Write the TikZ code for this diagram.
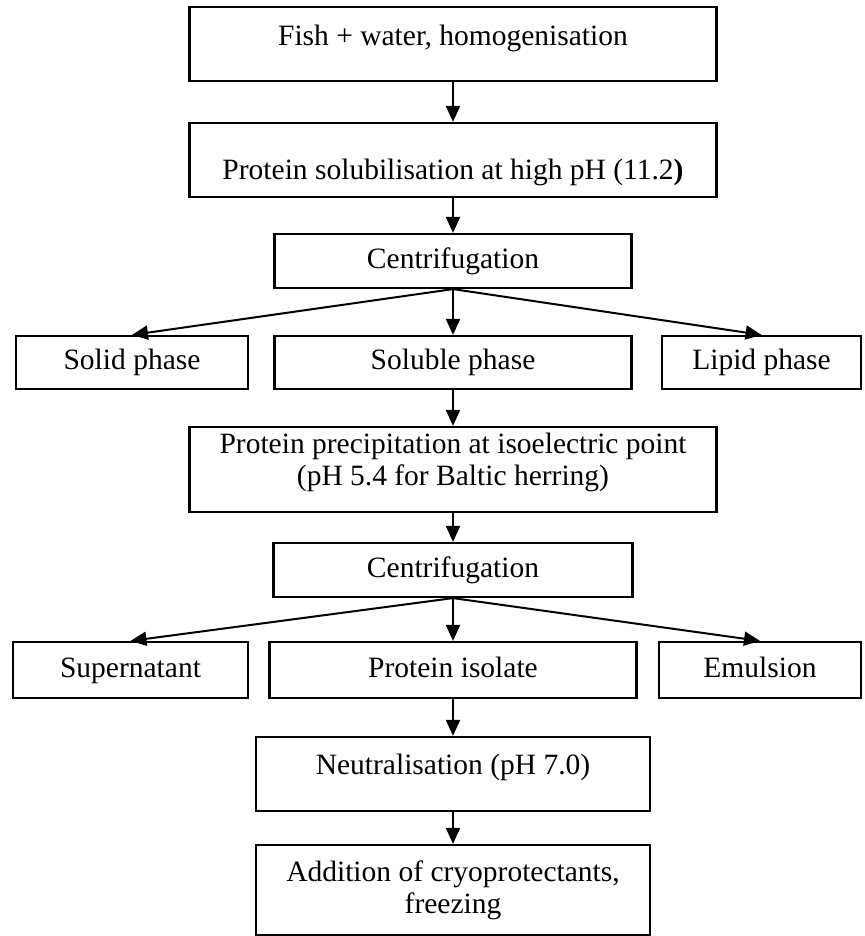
\documentclass[tikz,border=0pt]{standalone}
\usepackage{fontspec}
\setmainfont{Liberation Serif}
\usetikzlibrary{arrows.meta}

\begin{document}
\begin{tikzpicture}[
      x=1pt,y=-1pt,
      wNode/.style={draw=black,fill=white,minimum width=527pt,minimum height=74pt,
                    inner sep=0pt,align=center,font=\fontsize{29.5}{32}\selectfont,line width=2.2pt},
      oNode/.style={wNode,text height=21pt,text depth=6.5pt},
      cNode/.style={oNode,minimum width=357pt,minimum height=54pt},
      pNode/.style={oNode,minimum height=53pt},
      ar/.style={-{Triangle[length=16pt,width=14pt]},line width=2pt,color=black}
    ]
    \useasboundingbox (0,0) rectangle (864,936);

    % Extraction at high pH
    \node(fish)[oNode,text depth=18.5pt] at (453,44) {Fish + water, homogenisation};
    \node(solub)[oNode,text height=45pt] at (453,160) {Protein solubilisation at high pH (11.2\textbf{)}};
    \node(centA)[cNode] at (453,261) {Centrifugation};

    % Row 1: phases after first centrifugation
    \node(solid)[pNode,minimum width=232pt] at (132,362.5) {Solid phase};
    \node(soluble)[pNode,minimum width=357pt] at (453,362.5) {Soluble phase};
    \node(lipid)[pNode,minimum width=199pt] at (761.5,362.5) {Lipid phase};

    % Precipitation
    \node(precip)[wNode,minimum height=85pt,text depth=20.5pt] at (453,469.5) {Protein precipitation at isoelectric point\\(pH 5.4 for Baltic herring)};
    \node(centB)[cNode,minimum width=359pt] at (453,570) {Centrifugation};

    % Row 2: fractions after second centrifugation
    \node(super)[pNode,minimum width=235pt,minimum height=56pt] at (130.5,670) {Supernatant};
    \node(isolate)[pNode,minimum width=367pt,minimum height=56pt] at (453,670) {Protein isolate};
    \node(emul)[pNode,minimum width=202pt,minimum height=56pt] at (760,670) {Emulsion};

    % Final steps
    \node(neutr)[oNode,minimum width=394pt,text depth=20.5pt] at (453,774) {Neutralisation (pH 7.0)};
    \node(addit)[wNode,minimum width=394pt,minimum height=90pt] at (453,890) {Addition of cryoprotectants,\\freezing};

    % Main column arrows
    \draw[ar] (fish) -- (solub);
    \draw[ar] (solub) -- (centA);
    \draw[ar] (soluble) -- (precip);
    \draw[ar] (precip) -- (centB);
    \draw[ar] (isolate) -- (neutr);
    \draw[ar] (neutr) -- (addit);

    % Split after first centrifugation
    \draw[ar] (centA.south) -- (solid.north);
    \draw[ar] (centA.south) -- (soluble.north);
    \draw[ar] (centA.south) -- (lipid.north);

    % Split after second centrifugation
    \draw[ar] (centB.south) -- (super.north);
    \draw[ar] (centB.south) -- (isolate.north);
    \draw[ar] (centB.south) -- (emul.north);
  \end{tikzpicture}
\end{document}
